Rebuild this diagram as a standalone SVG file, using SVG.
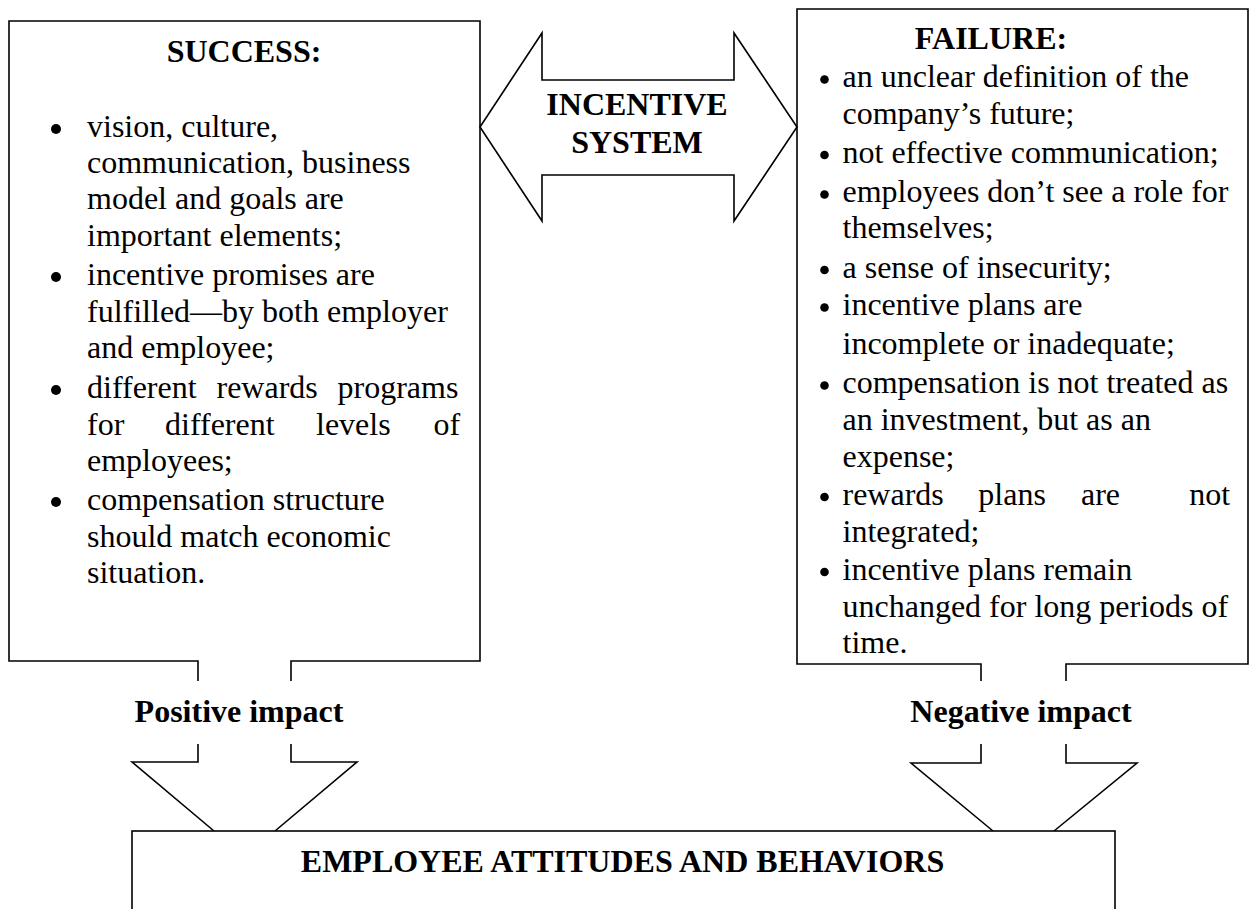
<svg xmlns="http://www.w3.org/2000/svg" width="1253" height="909" viewBox="0 0 1253 909">
<style>
.ln{fill:none;stroke:#000;stroke-width:1.6}
.box{fill:#fff;stroke:#000;stroke-width:1.6}
.t{font-family:"Liberation Serif","Times New Roman",serif;font-size:32px;fill:#000}
.b{font-weight:bold}
.c{text-anchor:middle}
.dot{fill:#000}
</style>
<rect width="1253" height="909" fill="#fff"/>
<g id="success">
<path class="ln" d="M198,681 V661 H9 V21 H480 V661 H291 V681"/>
<text class="t b c" x="244" y="62">SUCCESS:</text>
<circle class="dot" cx="56" cy="129" r="5"/>
<circle class="dot" cx="56" cy="277" r="5"/>
<circle class="dot" cx="56" cy="390" r="5"/>
<circle class="dot" cx="56" cy="502" r="5"/>
<text class="t">
<tspan x="87" y="137">vision, culture,</tspan>
<tspan x="87" y="173">communication, business</tspan>
<tspan x="87" y="209">model and goals are</tspan>
<tspan x="87" y="246">important elements;</tspan>
<tspan x="87" y="285">incentive promises are</tspan>
<tspan x="87" y="321.5">fulfilled—by both employer</tspan>
<tspan x="87" y="358">and employee;</tspan>
<tspan x="87" y="398">different</tspan><tspan x="216.5" y="398">rewards</tspan><tspan x="337.5" y="398">programs</tspan>
<tspan x="87" y="434.5">for</tspan><tspan x="165" y="434.5">different</tspan><tspan x="316" y="434.5">levels</tspan><tspan x="433.5" y="434.5">of</tspan>
<tspan x="87" y="470.5">employees;</tspan>
<tspan x="87" y="510">compensation structure</tspan>
<tspan x="87" y="546.5">should match economic</tspan>
<tspan x="87" y="583">situation.</tspan>
</text>
</g>
<g id="incentive-system">
<path class="ln" d="M480,127 L542,33 V80 H734 V33 L797,127 L734,221 V175 H542 V221 Z"/>
<text class="t b c" x="637" y="115">INCENTIVE</text>
<text class="t b c" x="637" y="153">SYSTEM</text>
</g>
<g id="failure">
<path class="ln" d="M981,681 V664 H797 V9 H1248 V664 H1066 V681"/>
<text class="t b c" x="991" y="49">FAILURE:</text>
<circle class="dot" cx="824.5" cy="79.5" r="4.3"/>
<circle class="dot" cx="824.5" cy="155" r="4.3"/>
<circle class="dot" cx="824.5" cy="194.5" r="4.3"/>
<circle class="dot" cx="824.5" cy="270" r="4.3"/>
<circle class="dot" cx="824.5" cy="307.5" r="4.3"/>
<circle class="dot" cx="824.5" cy="385.5" r="4.3"/>
<circle class="dot" cx="824.5" cy="497" r="4.3"/>
<circle class="dot" cx="824.5" cy="572" r="4.3"/>
<text class="t">
<tspan x="842.5" y="87.3">an unclear definition of the</tspan>
<tspan x="842.5" y="124">company’s future;</tspan>
<tspan x="842.5" y="162.7">not effective communication;</tspan>
<tspan x="842.5" y="202">employees don’t see a role for</tspan>
<tspan x="842.5" y="238.3">themselves;</tspan>
<tspan x="842.5" y="277.7">a sense of insecurity;</tspan>
<tspan x="842.5" y="315">incentive plans are</tspan>
<tspan x="842.5" y="354">incomplete or inadequate;</tspan>
<tspan x="842.5" y="393">compensation is not treated as</tspan>
<tspan x="842.5" y="430">an investment, but as an</tspan>
<tspan x="842.5" y="466.5">expense;</tspan>
<tspan x="842.5" y="505">rewards</tspan><tspan x="978.3" y="505">plans</tspan><tspan x="1081" y="505">are</tspan><tspan x="1189.3" y="505">not</tspan>
<tspan x="842.5" y="541.7">integrated;</tspan>
<tspan x="842.5" y="580">incentive plans remain</tspan>
<tspan x="842.5" y="616.7">unchanged for long periods of</tspan>
<tspan x="842.5" y="653.3">time.</tspan>
</text>
</g>
<g id="connectors">
<g id="positive-impact">
<path class="ln" d="M198,744 V762 H132 L214,831 M275,831 L357,762 H291 V744"/>
<text class="t b c" x="239" y="722">Positive impact</text>
</g>
<g id="negative-impact">
<path class="ln" d="M981,744 V763 H911 L993,831 M1054,831 L1137,763 H1066 V744"/>
<text class="t b c" x="1021" y="722">Negative impact</text>
</g>
</g>
<g id="employee-attitudes">
<rect class="box" x="132" y="831" width="983" height="110"/>
<text class="t b c" x="622.5" y="872">EMPLOYEE ATTITUDES AND BEHAVIORS</text>
</g>
</svg>
